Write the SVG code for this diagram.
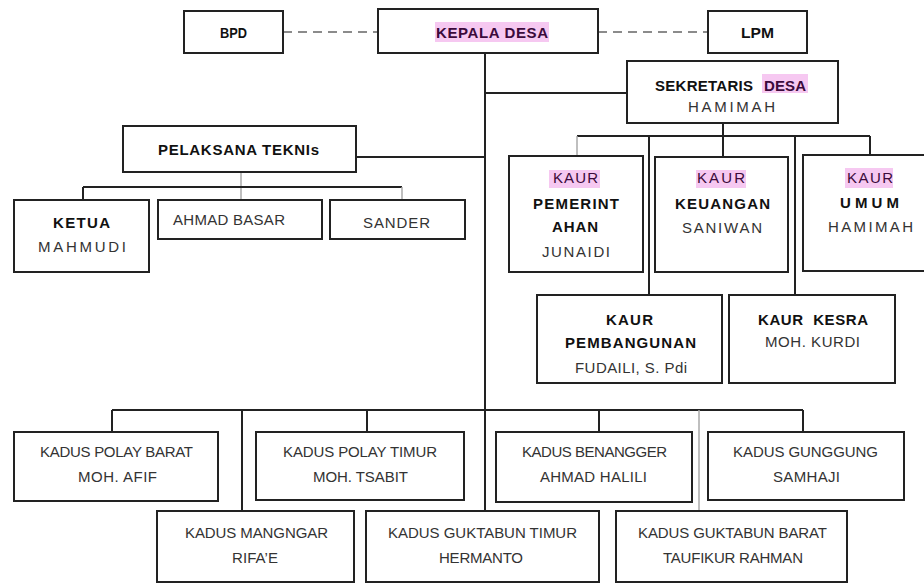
<svg xmlns="http://www.w3.org/2000/svg" width="924" height="584" viewBox="0 0 924 584">
<style>
.box{fill:#fff;stroke:#222;stroke-width:2}
.ln{stroke:#222;stroke-width:2;fill:none}
.lg{stroke:#aaa;stroke-width:1.5;fill:none}
.dash{stroke:#666;stroke-width:1.5;stroke-dasharray:9 6;fill:none}
.hl{fill:#f6c8f1}
text{font-family:"Liberation Sans",Arial,sans-serif;font-size:15px;text-anchor:middle}
.b{font-weight:bold;fill:#111}
.n{fill:#333}
.p{fill:#3b0a3b}
.s{font-size:14px}
</style>
<g id="connectors">
<line class="dash" x1="283" y1="32" x2="378" y2="32"/>
<line class="dash" x1="598" y1="32" x2="708" y2="32"/>
<line class="ln" x1="485" y1="53" x2="485" y2="511"/>
<line class="ln" x1="485" y1="93" x2="627" y2="93"/>
<line class="ln" x1="356" y1="157" x2="485" y2="157"/>
<line class="lg" x1="241" y1="172" x2="241" y2="200"/>
<line class="ln" x1="83" y1="187" x2="402" y2="187"/>
<line class="ln" x1="83" y1="187" x2="83" y2="200"/>
<line class="lg" x1="402" y1="187" x2="402" y2="200"/>
<line class="ln" x1="723" y1="123" x2="723" y2="157"/>
<line class="ln" x1="577" y1="136" x2="870" y2="136"/>
<line class="lg" x1="577" y1="136" x2="577" y2="156"/>
<line class="ln" x1="870" y1="136" x2="870" y2="155"/>
<line class="ln" x1="649" y1="136" x2="649" y2="295"/>
<line class="ln" x1="795" y1="136" x2="795" y2="295"/>
<line class="ln" x1="112" y1="410" x2="803" y2="410"/>
<line class="ln" x1="112" y1="410" x2="112" y2="432"/>
<line class="ln" x1="242" y1="410" x2="242" y2="511"/>
<line class="ln" x1="367" y1="410" x2="367" y2="432"/>
<line class="ln" x1="599" y1="410" x2="599" y2="432"/>
<line class="lg" x1="699" y1="410" x2="699" y2="511"/>
<line class="ln" x1="803" y1="410" x2="803" y2="432"/>
</g>
<g id="bpd"><rect class="box" x="184" y="11" width="99" height="42"/><text class="b s" x="233.5" y="38" textLength="27" lengthAdjust="spacingAndGlyphs">BPD</text></g>
<g id="kepala-desa"><rect class="box" x="378" y="9" width="220" height="44"/><rect class="hl" x="435" y="22" width="114" height="20"/><text class="b p" x="492" y="38" textLength="112">KEPALA DESA</text></g>
<g id="lpm"><rect class="box" x="708" y="11" width="99" height="42"/><text class="b s" x="757.5" y="38" textLength="33" lengthAdjust="spacingAndGlyphs">LPM</text></g>
<g id="sekretaris"><rect class="box" x="627" y="61" width="211" height="62"/><rect class="hl" x="762" y="74" width="46" height="19"/><text class="b" x="704" y="91" textLength="98">SEKRETARIS</text><text class="b p" x="785" y="91" textLength="42">DESA</text><text class="n" x="731.5" y="112" textLength="87">HAMIMAH</text></g>
<g id="pelaksana"><rect class="box" x="123" y="126" width="233" height="46"/><text class="b" x="238.5" y="155" textLength="161">PELAKSANA TEKNIs</text></g>
<g id="ketua"><rect class="box" x="14" y="200" width="135" height="72"/><text class="b" x="81.5" y="228" textLength="57">KETUA</text><text class="n" x="82" y="252" textLength="88">MAHMUDI</text></g>
<g id="ahmad-basar"><rect class="box" x="158" y="200" width="164" height="39"/><text class="n" x="229" y="225" textLength="112">AHMAD BASAR</text></g>
<g id="sander"><rect class="box" x="330" y="200" width="135" height="39"/><text class="n" x="396.5" y="228" textLength="67">SANDER</text></g>
<g id="kaur-pemerintahan"><rect class="box" x="509" y="156" width="134" height="116"/><rect class="hl" x="549" y="170" width="51" height="18"/><text class="p" x="575.5" y="183" textLength="45">KAUR</text><text class="b" x="576" y="209" textLength="86">PEMERINT</text><text class="b" x="575" y="232" textLength="46">AHAN</text><text class="n" x="576" y="257" textLength="68">JUNAIDI</text></g>
<g id="kaur-keuangan"><rect class="box" x="655" y="157" width="133" height="115"/><rect class="hl" x="696" y="170" width="50" height="18"/><text class="p" x="721" y="183" textLength="48">KAUR</text><text class="b" x="722.5" y="209" textLength="95">KEUANGAN</text><text class="n" x="722" y="233" textLength="80">SANIWAN</text></g>
<g id="kaur-umum"><rect class="box" x="803" y="155" width="140" height="116"/><rect class="hl" x="845" y="168" width="48" height="20"/><text class="p" x="870" y="183" textLength="46">KAUR</text><text class="b" x="869.5" y="208" textLength="59">UMUM</text><text class="n" x="870.5" y="232" textLength="85">HAMIMAH</text></g>
<g id="kaur-pembangunan"><rect class="box" x="537" y="295" width="185" height="88"/><text class="b" x="629.5" y="325" textLength="47">KAUR</text><text class="b" x="630.5" y="348" textLength="131">PEMBANGUNAN</text><text class="n" x="631" y="373" textLength="112">FUDAILI, S. Pdi</text></g>
<g id="kaur-kesra"><rect class="box" x="729" y="295" width="166" height="88"/><text class="b" x="813" y="325" textLength="110" xml:space="preserve">KAUR  KESRA</text><text class="n" x="812.5" y="347" textLength="95">MOH. KURDI</text></g>
<g id="kadus-polay-barat"><rect class="box" x="14" y="432" width="204" height="69"/><text class="n" x="116.5" y="457" textLength="153">KADUS POLAY BARAT</text><text class="n" x="117.5" y="482" textLength="79">MOH. AFIF</text></g>
<g id="kadus-polay-timur"><rect class="box" x="256" y="432" width="208" height="68"/><text class="n" x="360" y="457" textLength="154">KADUS POLAY TIMUR</text><text class="n" x="360.5" y="482" textLength="95">MOH. TSABIT</text></g>
<g id="kadus-benangger"><rect class="box" x="496" y="432" width="196" height="70"/><text class="n" x="594.5" y="457" textLength="145">KADUS BENANGGER</text><text class="n" x="593.5" y="482" textLength="107">AHMAD HALILI</text></g>
<g id="kadus-gunggung"><rect class="box" x="708" y="432" width="196" height="68"/><text class="n" x="805.5" y="457" textLength="145">KADUS GUNGGUNG</text><text class="n" x="806.5" y="482" textLength="67">SAMHAJI</text></g>
<g id="kadus-mangngar"><rect class="box" x="157" y="511" width="197" height="71"/><text class="n" x="256.5" y="538" textLength="143">KADUS MANGNGAR</text><text class="n" x="255" y="563" textLength="46">RIFA’E</text></g>
<g id="kadus-guktabun-timur"><rect class="box" x="366" y="511" width="233" height="71"/><text class="n" x="482.5" y="538" textLength="189">KADUS GUKTABUN TIMUR</text><text class="n" x="481" y="563" textLength="84">HERMANTO</text></g>
<g id="kadus-guktabun-barat"><rect class="box" x="616" y="511" width="231" height="71"/><text class="n" x="732.5" y="538" textLength="189">KADUS GUKTABUN BARAT</text><text class="n" x="733" y="563" textLength="140">TAUFIKUR RAHMAN</text></g>
</svg>
